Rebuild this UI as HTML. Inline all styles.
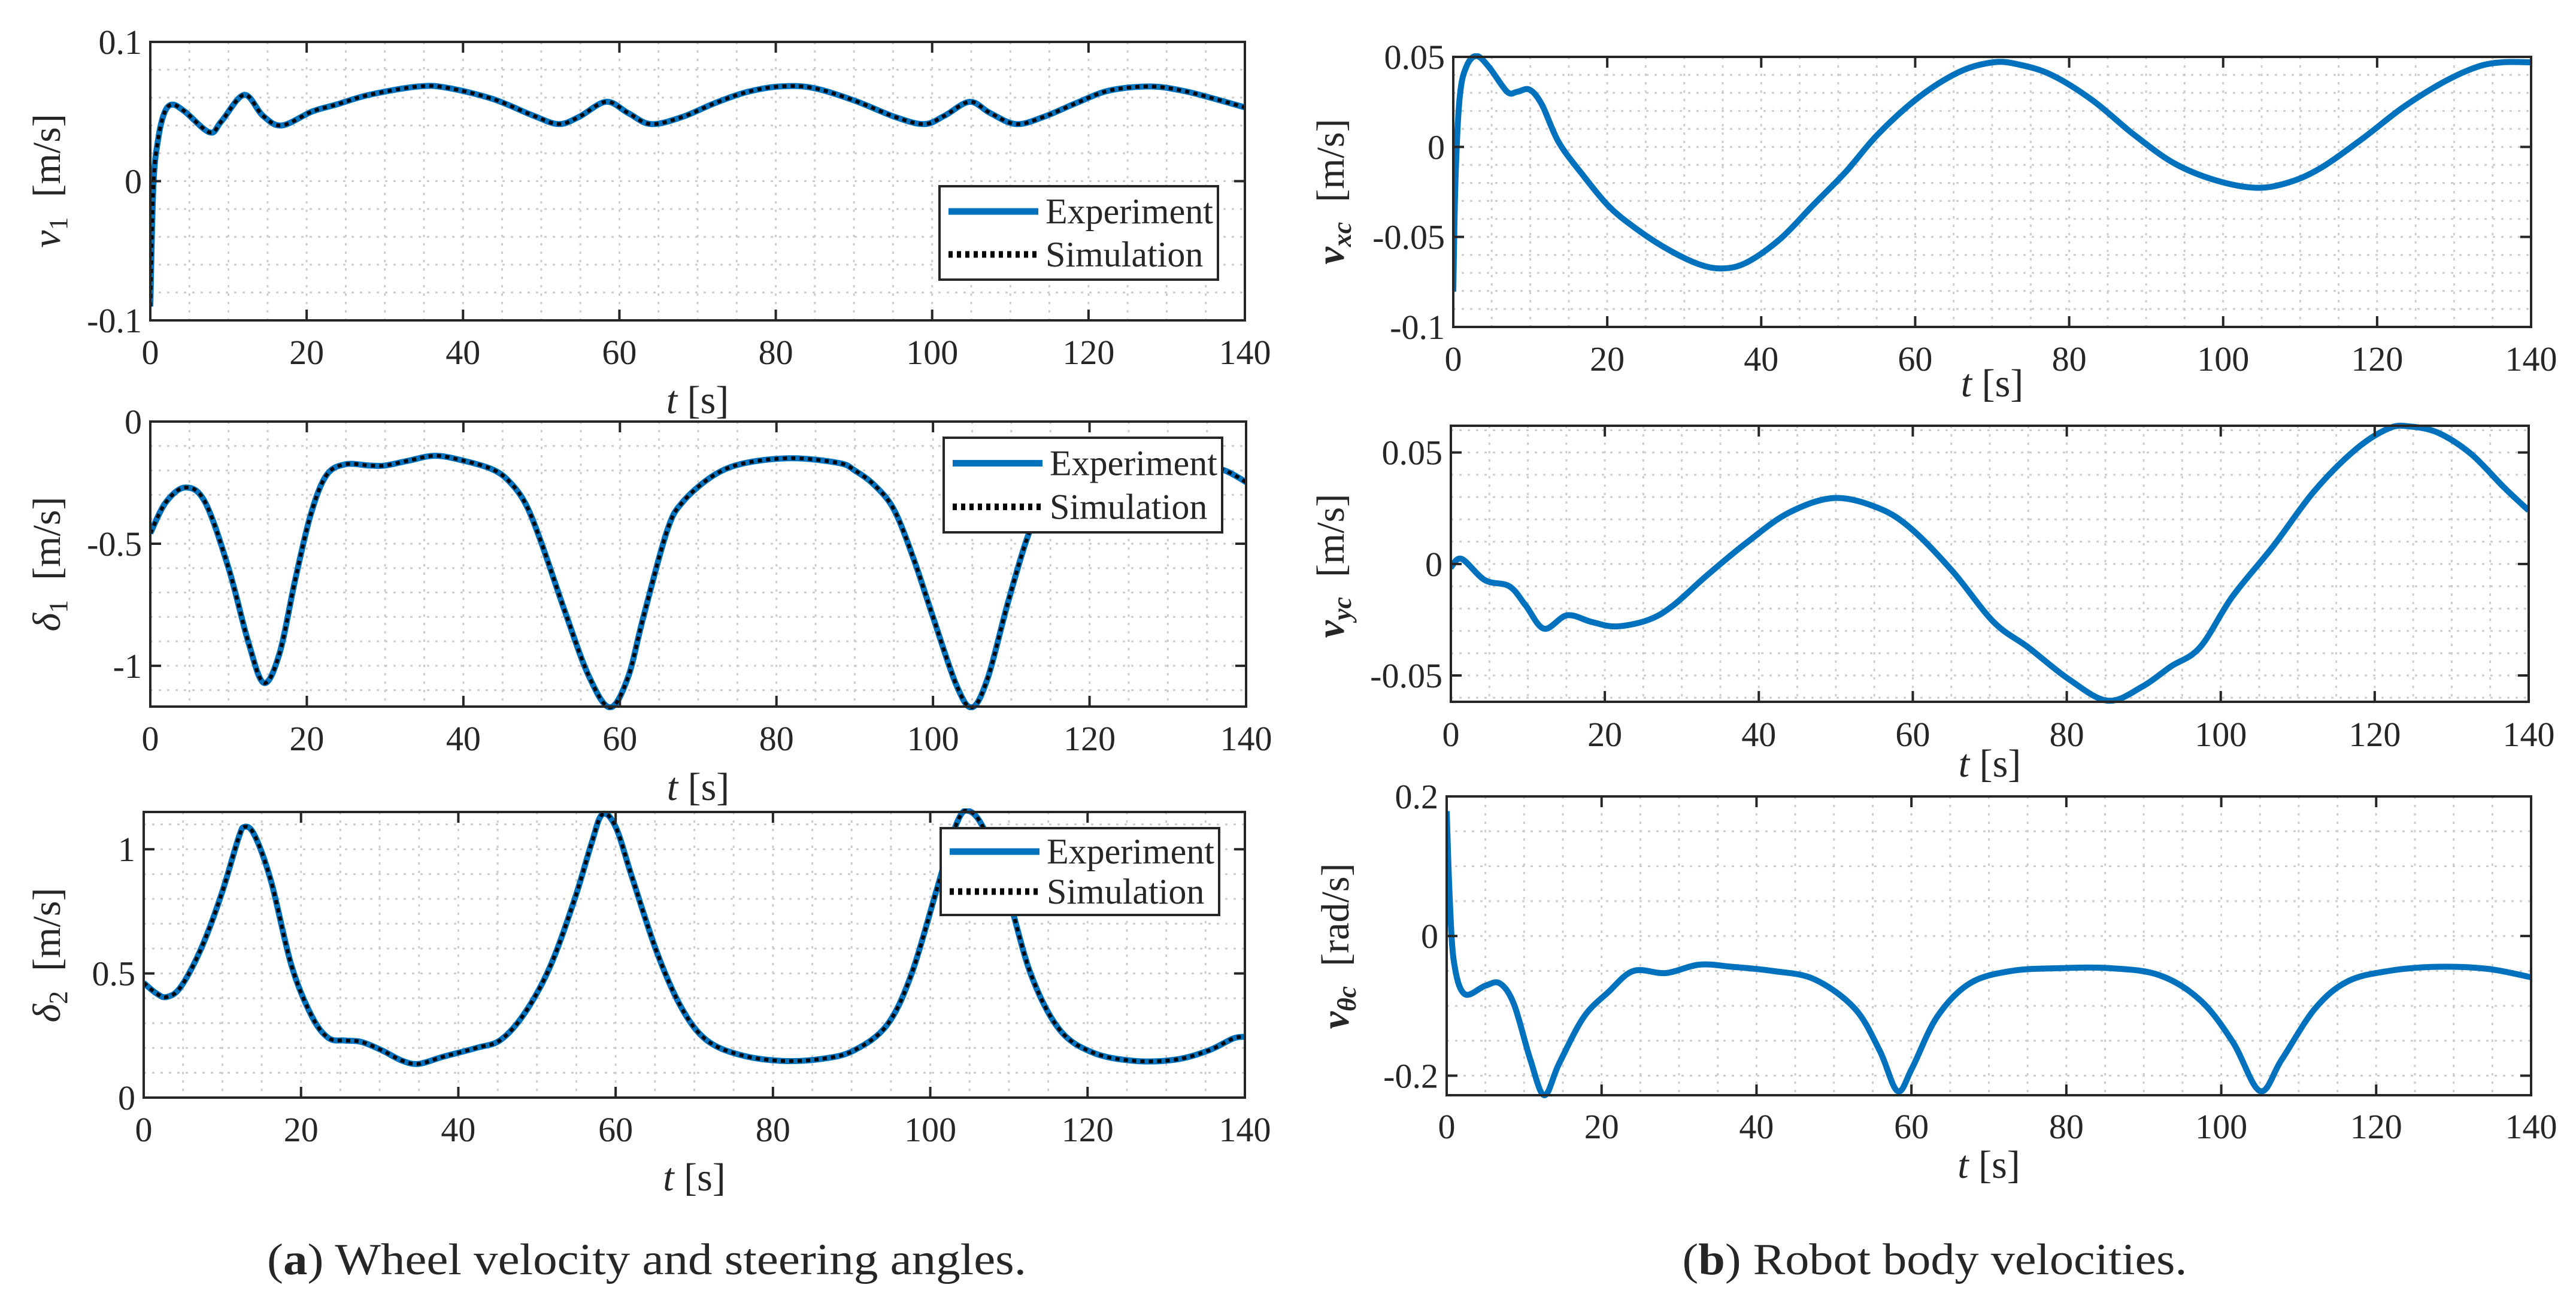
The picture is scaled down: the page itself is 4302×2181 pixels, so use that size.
<!DOCTYPE html>
<html><head><meta charset="utf-8"><style>
html,body{margin:0;padding:0;background:#fff;}
svg{display:block;}
text{font-family:"Liberation Serif",serif;fill:#262626;}
</style></head><body>
<svg id="fig" width="4302" height="2181" viewBox="0 0 4302 2181" xmlns="http://www.w3.org/2000/svg">
<text x="1080" y="2128" font-size="74" text-anchor="middle" textLength="1268" lengthAdjust="spacingAndGlyphs">(<tspan font-weight="bold">a</tspan>) Wheel velocity and steering angles.</text>
<text x="3231" y="2128" font-size="74" text-anchor="middle" textLength="843" lengthAdjust="spacingAndGlyphs">(<tspan font-weight="bold">b</tspan>) Robot body velocities.</text>
</svg>
<script>
// ---- data ----
const v1T = [0,0.4,1,1.8,2.8,4.4,7.6,9.1,12,14.4,16.8,20.7,23.8,28,34.3,38,43.8,49,52.2,54.8,58.3,61.1,64,68,72.2,76.3,80.5,84.7,90,95.3,99,101.6,104.8,107.4,110.7,114.2,118.4,122.6,127.8,132,136.2,140];
const v1V = [-0.09,-0.003,0.03,0.049,0.055,0.05,0.035,0.043,0.062,0.047,0.040,0.05,0.055,0.062,0.068,0.067,0.059,0.047,0.041,0.046,0.057,0.049,0.041,0.046,0.056,0.064,0.068,0.067,0.058,0.046,0.041,0.047,0.057,0.049,0.041,0.046,0.056,0.065,0.068,0.065,0.059,0.053];
const d1T = [0,2,4.5,7,10,12.5,14.5,16.5,18.5,20.5,22.5,24.9,28,30,33,36.4,40,43.8,46,48,50,53,56,58.7,61,63,66,68,72,76,82,88,90,92.5,95,97.5,100,103,105,107,109.5,112,114,117,121,126,132,137,140];
const d1V = [-0.457,-0.33,-0.27,-0.33,-0.6,-0.9,-1.07,-0.95,-0.65,-0.38,-0.22,-0.175,-0.18,-0.18,-0.16,-0.14,-0.16,-0.197,-0.25,-0.34,-0.5,-0.78,-1.04,-1.17,-1.05,-0.8,-0.45,-0.33,-0.22,-0.17,-0.15,-0.17,-0.2,-0.26,-0.36,-0.56,-0.8,-1.08,-1.17,-1.05,-0.75,-0.48,-0.34,-0.24,-0.18,-0.155,-0.16,-0.197,-0.248];
const d2T = [0,1.6,2.9,4.7,7.3,9.9,12,12.8,14.1,16.2,18.8,21.4,23.5,25.6,27.7,30.3,32.9,35,38.1,42.3,45.4,48.5,51.7,54.8,56.9,58.3,60,62.1,65.3,68.4,71.5,75.7,81,86.2,90.3,94.5,97.6,100.8,103.4,105,107,109.7,112.8,116.4,120.6,125.9,131.2,135.4,138.5,140];
const d2V = [0.462,0.42,0.405,0.445,0.6,0.82,1.04,1.09,1.056,0.87,0.53,0.326,0.24,0.23,0.224,0.19,0.148,0.136,0.165,0.2,0.233,0.343,0.53,0.8,1.02,1.14,1.09,0.886,0.58,0.36,0.233,0.173,0.148,0.156,0.19,0.292,0.496,0.835,1.107,1.153,1.07,0.835,0.496,0.275,0.182,0.148,0.153,0.19,0.238,0.245];
const vxT = [0,0.3,0.85,1.7,3,4.6,7,8.3,9.9,11.5,13.7,16.9,20.1,23.3,27.5,31.8,35,38.2,42.5,46.7,51,55.2,60.6,65.9,70.2,73.4,77.7,83,88.3,93.6,99,104.3,108.6,112.8,118.2,123.5,128.8,133.1,136.3,140];
const vxV = [-0.0804,-0.016,0.028,0.0446,0.0505,0.0446,0.0306,0.0306,0.0318,0.0236,0.0026,-0.016,-0.0325,-0.044,-0.056,-0.065,-0.0675,-0.064,-0.051,-0.0325,-0.0138,0.0072,0.028,0.042,0.047,0.0458,0.04,0.026,0.0072,-0.009,-0.0185,-0.0227,-0.0196,-0.0114,0.0049,0.0224,0.0364,0.0446,0.047,0.047];
const vyT = [0,1.4,4.4,7.6,9.7,12.1,15.1,18.3,21.5,25.7,28.9,33.2,38.5,43.9,49.8,55.6,59.9,65.2,70.5,75,80.2,85.3,89.8,93.5,97.3,101.5,106.8,112.1,117.5,121.8,124.5,128.2,132.5,136.8,140];
const vyV = [-0.0015,0.0023,-0.0072,-0.01,-0.0185,-0.029,-0.023,-0.026,-0.028,-0.025,-0.0185,-0.0053,0.0098,0.023,0.0296,0.025,0.0155,-0.0034,-0.026,-0.0374,-0.0515,-0.0613,-0.055,-0.046,-0.0374,-0.0147,0.0079,0.0325,0.0513,0.0608,0.0617,0.0589,0.0494,0.0343,0.024];
const vtT = [0,0.4,0.95,2.3,5,6.9,8.7,10.8,12.6,14.5,17.7,20.9,24.1,28.3,32.6,36.8,42.1,47.5,52.7,55.9,58.2,60.1,63.3,67.5,72.9,79.2,85.6,92,97.3,101.5,105,107.8,112.1,116.3,121.6,128,134.4,140];
const vtV = [0.179,0.052,-0.038,-0.083,-0.071,-0.068,-0.098,-0.177,-0.228,-0.183,-0.116,-0.08,-0.05,-0.053,-0.041,-0.044,-0.05,-0.062,-0.104,-0.164,-0.222,-0.189,-0.116,-0.068,-0.05,-0.046,-0.046,-0.056,-0.092,-0.152,-0.222,-0.177,-0.104,-0.065,-0.05,-0.044,-0.047,-0.059];
const xTicks = [0,20,40,60,80,100,120,140];
const v1Ticks = [-0.1,0,0.1], v1TickLabels = ["-0.1","0","0.1"];
const d1Ticks = [-1,-0.5,0], d1TickLabels = ["-1","-0.5","0"];
const d2Ticks = [0,0.5,1], d2TickLabels = ["0","0.5","1"];
const vxTicks = [-0.1,-0.05,0,0.05], vxTickLabels = ["-0.1","-0.05","0","0.05"];
const vyTicks = [-0.05,0,0.05], vyTickLabels = ["-0.05","0","0.05"];
const vtTicks = [-0.2,0,0.2], vtTickLabels = ["-0.2","0","0.2"];

// ---- layout ----
const NS="http://www.w3.org/2000/svg";
const svg=document.getElementById('fig');
function mk(tag,attrs,parent){const e=document.createElementNS(NS,tag);for(const k in attrs)e.setAttribute(k,attrs[k]);(parent||svg).appendChild(e);return e;}

const plots=[
 {id:'v1',L:251,R:2079,T:70,B:535,ymin:-0.1,ymax:0.1,ticks:v1Ticks,tl:v1TickLabels,minor:0.02,t:v1T,v:v1V,sim:true,leg:[1569,311,2034,467],xly:608,tly:690,lab:['v','1','[m/s]'],bold:false,labx:78,laby:302},
 {id:'d1',L:251,R:2081,T:704,B:1180,ymin:-1.167,ymax:0,ticks:d1Ticks,tl:d1TickLabels,minor:0.1,t:d1T,v:d1V,sim:true,leg:[1576,731,2041,889],xly:1253,tly:1336,lab:['δ','1','[m/s]'],bold:false,labx:78,laby:942},
 {id:'d2',L:240,R:2079,T:1356,B:1833,ymin:0,ymax:1.15,ticks:d2Ticks,tl:d2TickLabels,minor:0.1,t:d2T,v:d2V,sim:true,leg:[1571,1383,2036,1528],xly:1906,tly:1988,lab:['δ','2','[m/s]'],bold:false,labx:78,laby:1595},
 {id:'vxc',L:2427,R:4227,T:95,B:546,ymin:-0.1,ymax:0.05,ticks:vxTicks,tl:vxTickLabels,minor:0.01,t:vxT,v:vxV,sim:false,xly:619,tly:662,lab:['v','xc','[m/s]'],bold:true,labx:2222,laby:320},
 {id:'vyc',L:2423,R:4223,T:711,B:1172,ymin:-0.0618,ymax:0.062,ticks:vyTicks,tl:vyTickLabels,minor:0.01,t:vyT,v:vyV,sim:false,xly:1246,tly:1297,lab:['v','yc','[m/s]'],bold:true,labx:2222,laby:945},
 {id:'vthc',L:2416,R:4227,T:1330,B:1829,ymin:-0.228,ymax:0.2,ticks:vtTicks,tl:vtTickLabels,minor:0.05,t:vtT,v:vtV,sim:false,xly:1901,tly:1967,lab:['v','θc','[rad/s]'],bold:true,labx:2230,laby:1580}
];

function curvePath(pts){
  let d='M'+pts[0][0].toFixed(1)+','+pts[0][1].toFixed(1);
  for(let i=0;i<pts.length-1;i++){
    const p0=pts[Math.max(0,i-1)],p1=pts[i],p2=pts[i+1],p3=pts[Math.min(pts.length-1,i+2)];
    const c1x=p1[0]+(p2[0]-p0[0])/6,c1y=p1[1]+(p2[1]-p0[1])/6;
    const c2x=p2[0]-(p3[0]-p1[0])/6,c2y=p2[1]-(p3[1]-p1[1])/6;
    d+=' C'+c1x.toFixed(1)+','+c1y.toFixed(1)+' '+c2x.toFixed(1)+','+c2y.toFixed(1)+' '+p2[0].toFixed(1)+','+p2[1].toFixed(1);
  }
  return d;
}

plots.forEach(p=>{
  const xs=t=>p.L+(t-0)/(140-0)*(p.R-p.L);
  const ys=v=>p.B-(v-p.ymin)/(p.ymax-p.ymin)*(p.B-p.T);
  const g=mk('g',{});
  
  
  const clipId='clip-'+p.id;
  const cp=mk('clipPath',{id:clipId},g);mk('rect',{x:p.L,y:p.T-6,width:p.R-p.L,height:p.B-p.T+12},cp);
  const grid=mk('g',{stroke:'#cdcdcd','stroke-width':3,'stroke-dasharray':'4 10',fill:'none'},g);
  
  
  for(let t=5;t<140;t+=5){mk('line',{x1:xs(t),x2:xs(t),y1:p.T,y2:p.B},grid);}
  const s0=Math.ceil(p.ymin/p.minor-1e-6);
  for(let k=s0;k*p.minor<p.ymax-1e-9;k++){const v=k*p.minor;if(v<=p.ymin+1e-9)continue;mk('line',{x1:p.L,x2:p.R,y1:ys(v),y2:ys(v)},grid);}
  const pts=p.t.map((t,i)=>[xs(t),ys(p.v[i])]);
  const d=curvePath(pts);
  const exp=mk('path',{d:d,fill:'none',stroke:'#0072BD','stroke-width':10,'stroke-linejoin':'round','clip-path':'url(#'+clipId+')'},g);
  
  
  if(p.sim){
    const sim=mk('path',{d:d,fill:'none',stroke:'#000','stroke-width':6,'stroke-dasharray':'7 7','clip-path':'url(#'+clipId+')'},g);
    
    
  }
  const box=mk('rect',{x:p.L,y:p.T,width:p.R-p.L,height:p.B-p.T,fill:'none',stroke:'#262626','stroke-width':4},g);
  
  
  const tk=mk('g',{stroke:'#262626','stroke-width':4},g);
  xTicks.forEach(t=>{
    mk('line',{x1:xs(t),x2:xs(t),y1:p.B,y2:p.B-18},tk);
    mk('line',{x1:xs(t),x2:xs(t),y1:p.T,y2:p.T+18},tk);
    const tx=mk('text',{x:xs(t),y:p.xly,'font-size':58,'text-anchor':'middle'},g);
    
    
    tx.textContent=String(t);
  });
  p.ticks.forEach((v,i)=>{
    mk('line',{x1:p.L,x2:p.L+18,y1:ys(v),y2:ys(v)},tk);
    mk('line',{x1:p.R,x2:p.R-18,y1:ys(v),y2:ys(v)},tk);
    const tx=mk('text',{x:p.L-14,y:ys(v)+20,'font-size':58,'text-anchor':'end'},g);
    
    
    tx.textContent=p.tl[i];
  });
  const xl=mk('text',{x:(p.L+p.R)/2,y:p.tly,'font-size':66,'text-anchor':'middle'},g);
  
  
  const a=mk('tspan',{'font-style':'italic'},xl);a.textContent='t';
  const b=mk('tspan',{},xl);b.textContent=' [s]';
  const yl=mk('text',{x:0,y:0,'font-size':66,'text-anchor':'middle',transform:'translate('+(p.labx+22)+','+p.laby+') rotate(-90)'},g);
  
  
  const y1=mk('tspan',{'font-style':'italic','font-weight':p.bold?'bold':'normal'},yl);y1.textContent=p.lab[0];
  const y2=mk('tspan',{'font-size':44,dy:12,'font-style':p.lab[1].length>1?'italic':'normal','font-weight':p.bold?'bold':'normal'},yl);y2.textContent=p.lab[1];
  const y3=mk('tspan',{dy:-12},yl);y3.textContent='\u2002'+p.lab[2];
  if(p.leg){
    const [x1,y1_,x2,y2_]=p.leg;
    const lg=mk('g',{},g);
    
    
    mk('rect',{x:x1,y:y1_,width:x2-x1,height:y2_-y1_,fill:'#fff',stroke:'#262626','stroke-width':4},lg);
    const h=y2_-y1_;
    const ly1=y1_+h*0.27, ly2=y1_+h*0.73;
    mk('line',{x1:x1+15,x2:x1+165,y1:ly1,y2:ly1,stroke:'#0072BD','stroke-width':11},lg);
    mk('line',{x1:x1+15,x2:x1+165,y1:ly2,y2:ly2,stroke:'#000','stroke-width':11,'stroke-dasharray':'7 7'},lg);
    const e1=mk('text',{x:x1+177,y:ly1+20,'font-size':60,fill:'#000'},lg);
    
    
    e1.textContent='Experiment';
    const e2=mk('text',{x:x1+177,y:ly2+20,'font-size':60,fill:'#000'},lg);
    
    
    e2.textContent='Simulation';
  }
});
</script>
</body></html>
